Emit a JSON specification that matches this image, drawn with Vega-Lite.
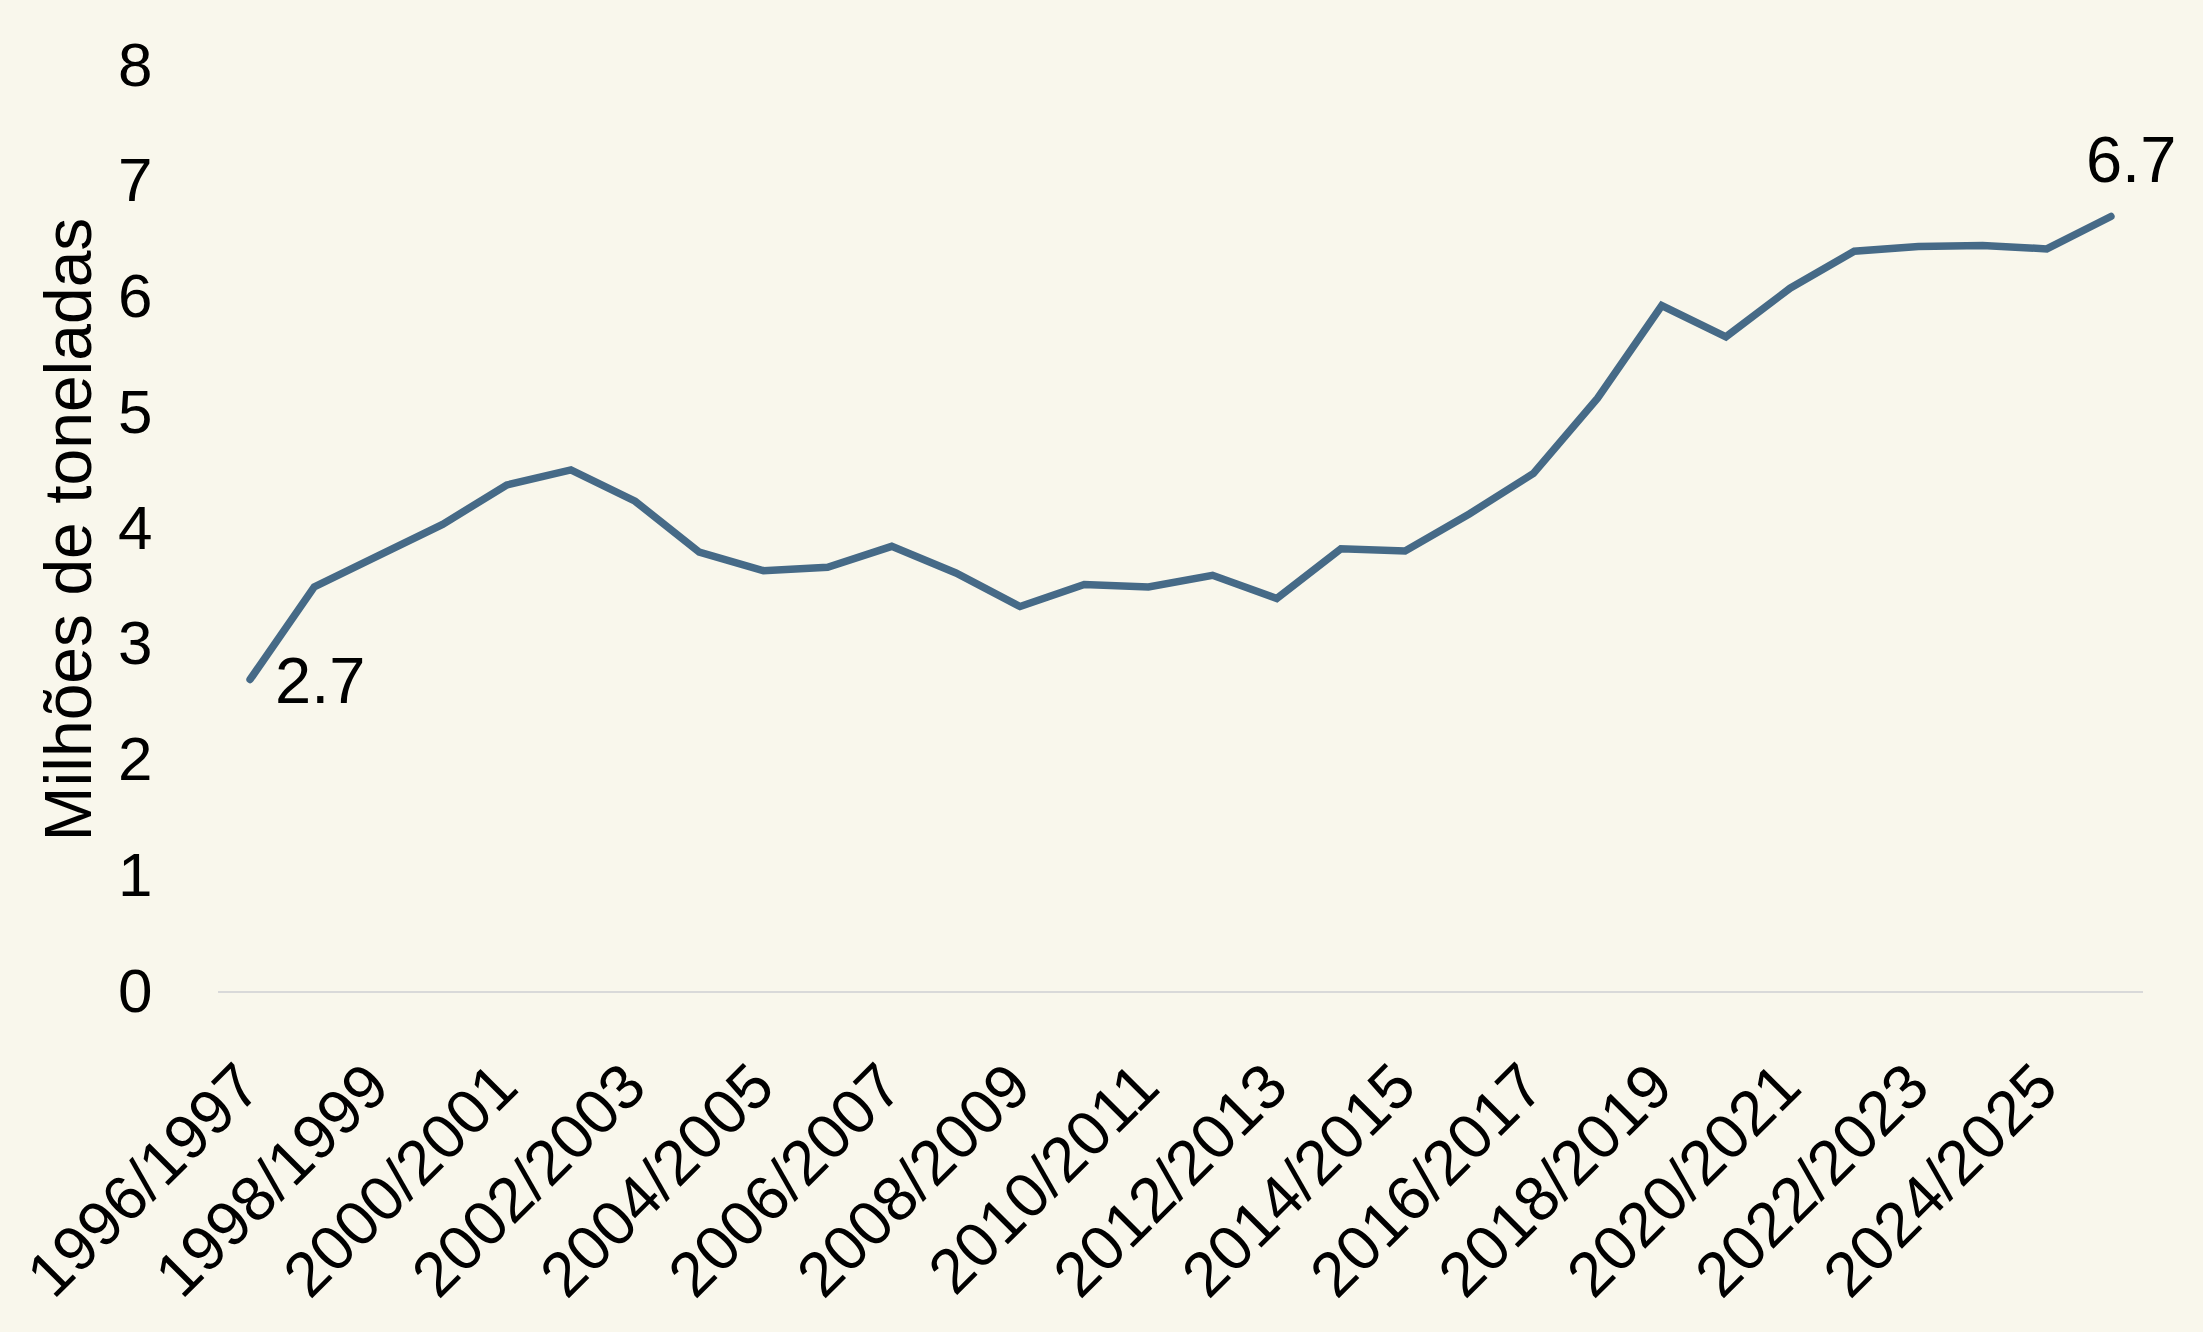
{
  "$schema": "https://vega.github.io/schema/vega-lite/v6.json",
  "autosize": "none",
  "width": 1925,
  "height": 926,
  "padding": {"left": 218, "top": 66, "right": 60, "bottom": 340},
  "background": "#F9F7EC",
  "config": {
    "view": {"stroke": null},
    "font": "Liberation Sans",
    "axis": {"labelFont": "Liberation Sans", "titleFont": "Liberation Sans", "labelColor": "#000000", "titleColor": "#000000"}
  },
  "data": {
    "values": [
      {"safra": "1996/1997", "v": 2.70},
      {"safra": "1997/1998", "v": 3.50},
      {"safra": "1998/1999", "v": 3.77},
      {"safra": "1999/2000", "v": 4.04},
      {"safra": "2000/2001", "v": 4.38},
      {"safra": "2001/2002", "v": 4.51},
      {"safra": "2002/2003", "v": 4.24},
      {"safra": "2003/2004", "v": 3.80},
      {"safra": "2004/2005", "v": 3.64},
      {"safra": "2005/2006", "v": 3.67},
      {"safra": "2006/2007", "v": 3.85},
      {"safra": "2007/2008", "v": 3.62},
      {"safra": "2008/2009", "v": 3.33},
      {"safra": "2009/2010", "v": 3.52},
      {"safra": "2010/2011", "v": 3.50},
      {"safra": "2011/2012", "v": 3.60},
      {"safra": "2012/2013", "v": 3.40},
      {"safra": "2013/2014", "v": 3.83},
      {"safra": "2014/2015", "v": 3.81},
      {"safra": "2015/2016", "v": 4.13},
      {"safra": "2016/2017", "v": 4.48},
      {"safra": "2017/2018", "v": 5.13},
      {"safra": "2018/2019", "v": 5.93},
      {"safra": "2019/2020", "v": 5.66},
      {"safra": "2020/2021", "v": 6.08},
      {"safra": "2021/2022", "v": 6.40},
      {"safra": "2022/2023", "v": 6.44},
      {"safra": "2023/2024", "v": 6.45},
      {"safra": "2024/2025", "v": 6.42},
      {"safra": "2025/2026", "v": 6.70, "lab": "6.7"}
    ]
  },
  "encoding": {
    "x": {
      "field": "safra",
      "type": "ordinal",
      "sort": null,
      "scale": {"type": "point", "padding": 0.5},
      "axis": {
        "title": null,
        "values": ["1996/1997","1998/1999","2000/2001","2002/2003","2004/2005","2006/2007","2008/2009","2010/2011","2012/2013","2014/2015","2016/2017","2018/2019","2020/2021","2022/2023","2024/2025"],
        "labelAngle": -45,
        "labelAlign": "right",
        "labelBaseline": "middle",
        "labelFontSize": 63,
        "labelPadding": 84,
        "labelLimit": 0,
        "ticks": false,
        "domain": false,
        "grid": false,
        "labelOverlap": false,
        "labelBound": false
      }
    },
    "y": {
      "field": "v",
      "type": "quantitative",
      "scale": {"domain": [0, 8], "nice": false, "zero": true},
      "axis": {
        "title": "Milhões de toneladas",
        "titleFontSize": 66,
        "titleFontWeight": "normal",
        "titleAngle": -90,
        "titleX": -148,
        "titleY": 463,
        "titleAlign": "center",
        "titleBaseline": "middle",
        "values": [0, 1, 2, 3, 4, 5, 6, 7, 8],
        "labelFontSize": 62,
        "labelPadding": 66,
        "ticks": false,
        "domain": false,
        "grid": false
      }
    }
  },
  "layer": [
    {
      "mark": {"type": "rule", "color": "#D9D9D9", "strokeWidth": 2},
      "encoding": {"y": {"datum": 0}, "x": null}
    },
    {
      "mark": {"type": "line", "color": "#466A87", "strokeWidth": 7.5, "strokeCap": "round", "strokeJoin": "miter"}
    },
    {
      "transform": [{"filter": "datum.safra === '1996/1997'"}],
      "mark": {"type": "text", "align": "left", "baseline": "alphabetic", "dx": 25, "dy": 24, "fontSize": 65, "color": "#000000"},
      "encoding": {"text": {"value": "2.7"}}
    },
    {
      "transform": [{"filter": "datum.safra === '2025/2026'"}],
      "mark": {"type": "text", "align": "left", "baseline": "alphabetic", "dx": -25, "dy": -34, "fontSize": 65, "color": "#000000"},
      "encoding": {"text": {"field": "lab"}}
    }
  ]
}
